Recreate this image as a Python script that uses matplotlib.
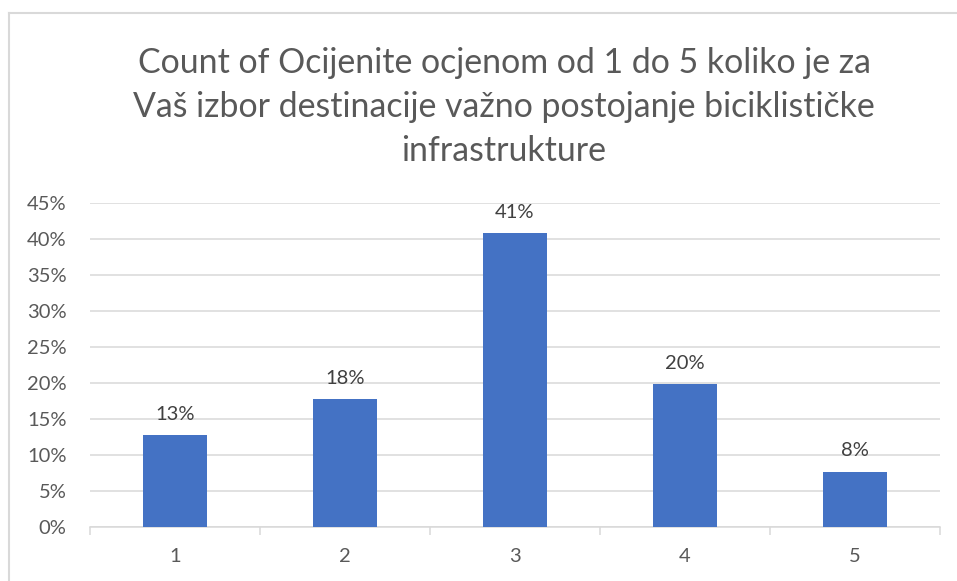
import numpy as np
import matplotlib.pyplot as plt
from matplotlib.ticker import FixedLocator

categories = ['1', '2', '3', '4', '5']
shares = [12.8, 17.8, 40.8, 19.8, 7.7]
labels = ['13%', '18%', '41%', '20%', '8%']
yticks = [0, 5, 10, 15, 20, 25, 30, 35, 40, 45]
title = ('Count of Ocijenite ocjenom od 1 do 5 koliko je za\n'
         'Vaš izbor destinacije važno postojanje biciklističke\n'
         'infrastrukture')

plt.rcParams['font.family'] = ['Lato', 'DejaVu Sans']

fig = plt.figure(figsize=(9.57, 5.81), dpi=100)
W, H = 957, 581
ax = fig.add_axes([90 / W, 1 - 527 / H, 850 / W, 324 / H])

x = np.arange(len(categories))
ax.bar(x, shares, width=0.376, color='#4472C4', zorder=3)
for xi, v, lab in zip(x, shares, labels):
    ax.text(xi, v + 1.7, lab, ha='center', va='bottom', fontsize=14.5, color='#404040')

ax.set_xlim(-0.5, len(categories) - 0.5)
ax.set_ylim(0, 45)
ax.set_yticks(yticks)
ax.set_yticklabels([f'{t}%' for t in yticks])
ax.yaxis.grid(True, color='#D9D9D9', linewidth=1.1, zorder=0)
ax.tick_params(axis='y', length=0, labelsize=14.5, labelcolor='#595959', pad=17)

ax.set_xticks(x)
ax.set_xticklabels(categories)
ax.tick_params(axis='x', which='major', length=0, labelsize=14.5, labelcolor='#595959', pad=15)
ax.xaxis.set_minor_locator(FixedLocator(np.arange(-0.5, len(categories), 1.0)))
ax.tick_params(axis='x', which='minor', length=6, color='#D9D9D9', width=1.1)

for s in ['top', 'right', 'left']:
    ax.spines[s].set_visible(False)
ax.spines['bottom'].set_color('#D9D9D9')
ax.spines['bottom'].set_linewidth(1.1)

fig.text(504 / W, 1 - 107 / H, title, ha='center', va='center', fontsize=24.4,
         color='#595959', linespacing=1.47, multialignment='center')

# chart border (left and top edges visible)
fig.add_artist(plt.Line2D([9 / W, 9 / W], [0, 1 - 13 / H], transform=fig.transFigure,
                          color='#D9D9D9', linewidth=1.5))
fig.add_artist(plt.Line2D([9 / W, 1], [1 - 13 / H, 1 - 13 / H], transform=fig.transFigure,
                          color='#D9D9D9', linewidth=1.5))

fig.savefig('out.png', dpi=100)
